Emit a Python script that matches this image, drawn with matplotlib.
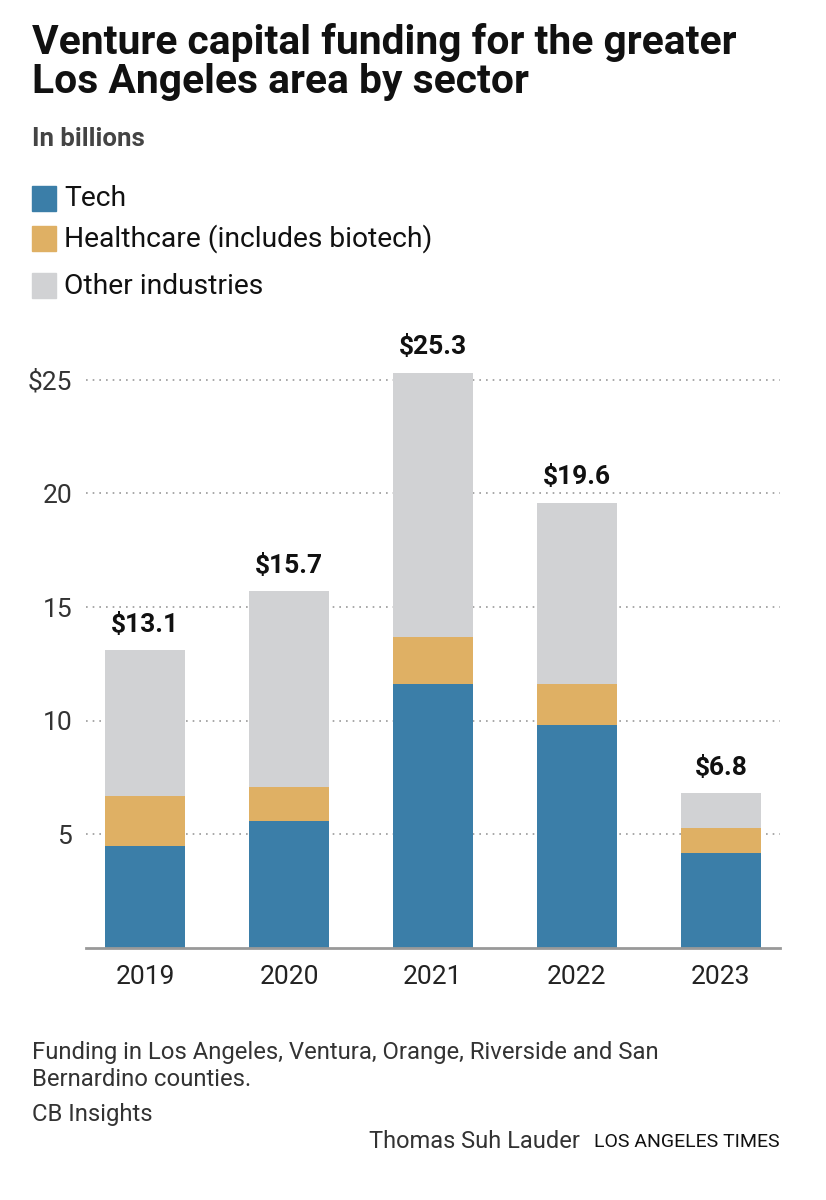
import matplotlib
matplotlib.use("Agg")
import matplotlib.pyplot as plt
from matplotlib import font_manager
import numpy as np

years = ["2019", "2020", "2021", "2022", "2023"]
tech = [4.5, 5.6, 11.6, 9.8, 4.2]
healthcare = [2.2, 1.5, 2.1, 1.8, 1.1]
totals = [13.1, 15.7, 25.3, 19.6, 6.8]
other = [round(t - a - b, 1) for t, a, b in zip(totals, tech, healthcare)]
total_labels = ["$13.1", "$15.7", "$25.3", "$19.6", "$6.8"]
yticks = [5, 10, 15, 20, 25]
ytick_labels = ["5", "10", "15", "20", "$25"]
series_names = ["Tech", "Healthcare (includes biotech)", "Other industries"]

C_TECH = "#3b7ea8"
C_HEALTH = "#dfb064"
C_OTHER = "#d1d2d4"

names = {f.name for f in font_manager.fontManager.ttflist}
FONT = "Liberation Sans Narrow" if "Liberation Sans Narrow" in names else "Roboto"
plt.rcParams["font.family"] = [FONT, "DejaVu Sans"]

fig = plt.figure(figsize=(8.26, 12), dpi=100)
ax = fig.add_axes([86 / 826, 1 - 948 / 1200, (780 - 86) / 826, (948 - 323) / 1200])

x = np.arange(len(years))
w = 0.56
ax.bar(x, tech, w, color=C_TECH, zorder=3)
ax.bar(x, healthcare, w, bottom=tech, color=C_HEALTH, zorder=3)
bot2 = [a + b for a, b in zip(tech, healthcare)]
ax.bar(x, other, w, bottom=bot2, color=C_OTHER, zorder=3)

for xi, t, lab in zip(x, totals, total_labels):
    ax.text(xi, t + 0.6, lab, ha="center", va="bottom", fontsize=19,
            fontweight="bold", color="#111111")

ax.set_xlim(-0.41, 4.41)
ax.set_ylim(0, 27.5)
ax.set_yticks(yticks)
ax.set_yticklabels(ytick_labels)
ax.set_xticks(x)
ax.set_xticklabels(years)
ax.tick_params(axis="y", length=0, pad=10, labelsize=19, labelcolor="#333333")
ax.tick_params(axis="x", length=0, pad=12, labelsize=19, labelcolor="#222222")
ax.yaxis.grid(True, linestyle=(0, (1, 3)), color="#999999", linewidth=1.2, zorder=0)
for s in ["top", "right", "left"]:
    ax.spines[s].set_visible(False)
ax.spines["bottom"].set_color("#999999")
ax.spines["bottom"].set_linewidth(2)
ax.spines["bottom"].set_zorder(4)

def fy(py):
    return 1 - py / 1200

fig.text(32 / 826, fy(42), "Venture capital funding for the greater", fontsize=29.3,
         fontweight="bold", color="#111111", va="center", ha="left")
fig.text(32 / 826, fy(82), "Los Angeles area by sector", fontsize=29.3,
         fontweight="bold", color="#111111", va="center", ha="left")
fig.text(32 / 826, fy(139), "In billions", fontsize=18.5, fontweight="bold",
         color="#444444", va="center", ha="left")

leg_y = [199, 239, 286]
for yy, col, name in zip(leg_y, [C_TECH, C_HEALTH, C_OTHER], series_names):
    fig.patches.append(plt.Rectangle((32 / 826, fy(yy + 12)), 24 / 826, 25 / 1200,
                                     transform=fig.transFigure, color=col, figure=fig))
    fig.text(64 / 826, fy(yy), name, fontsize=20.3, color="#111111", va="center", ha="left")

fig.text(32 / 826, fy(1052), "Funding in Los Angeles, Ventura, Orange, Riverside and San",
         fontsize=17.2, color="#333333", va="center", ha="left")
fig.text(32 / 826, fy(1079), "Bernardino counties.", fontsize=17.2, color="#333333",
         va="center", ha="left")
fig.text(32 / 826, fy(1114), "CB Insights", fontsize=17.2, color="#333333",
         va="center", ha="left")
fig.text(580 / 826, fy(1141), "Thomas Suh Lauder", fontsize=17, color="#333333",
         va="center", ha="right")
fig.text(780 / 826, fy(1142), "LOS ANGELES TIMES", fontsize=14, color="#111111",
         va="center", ha="right")

fig.savefig("out.png", dpi=100, facecolor="white")
